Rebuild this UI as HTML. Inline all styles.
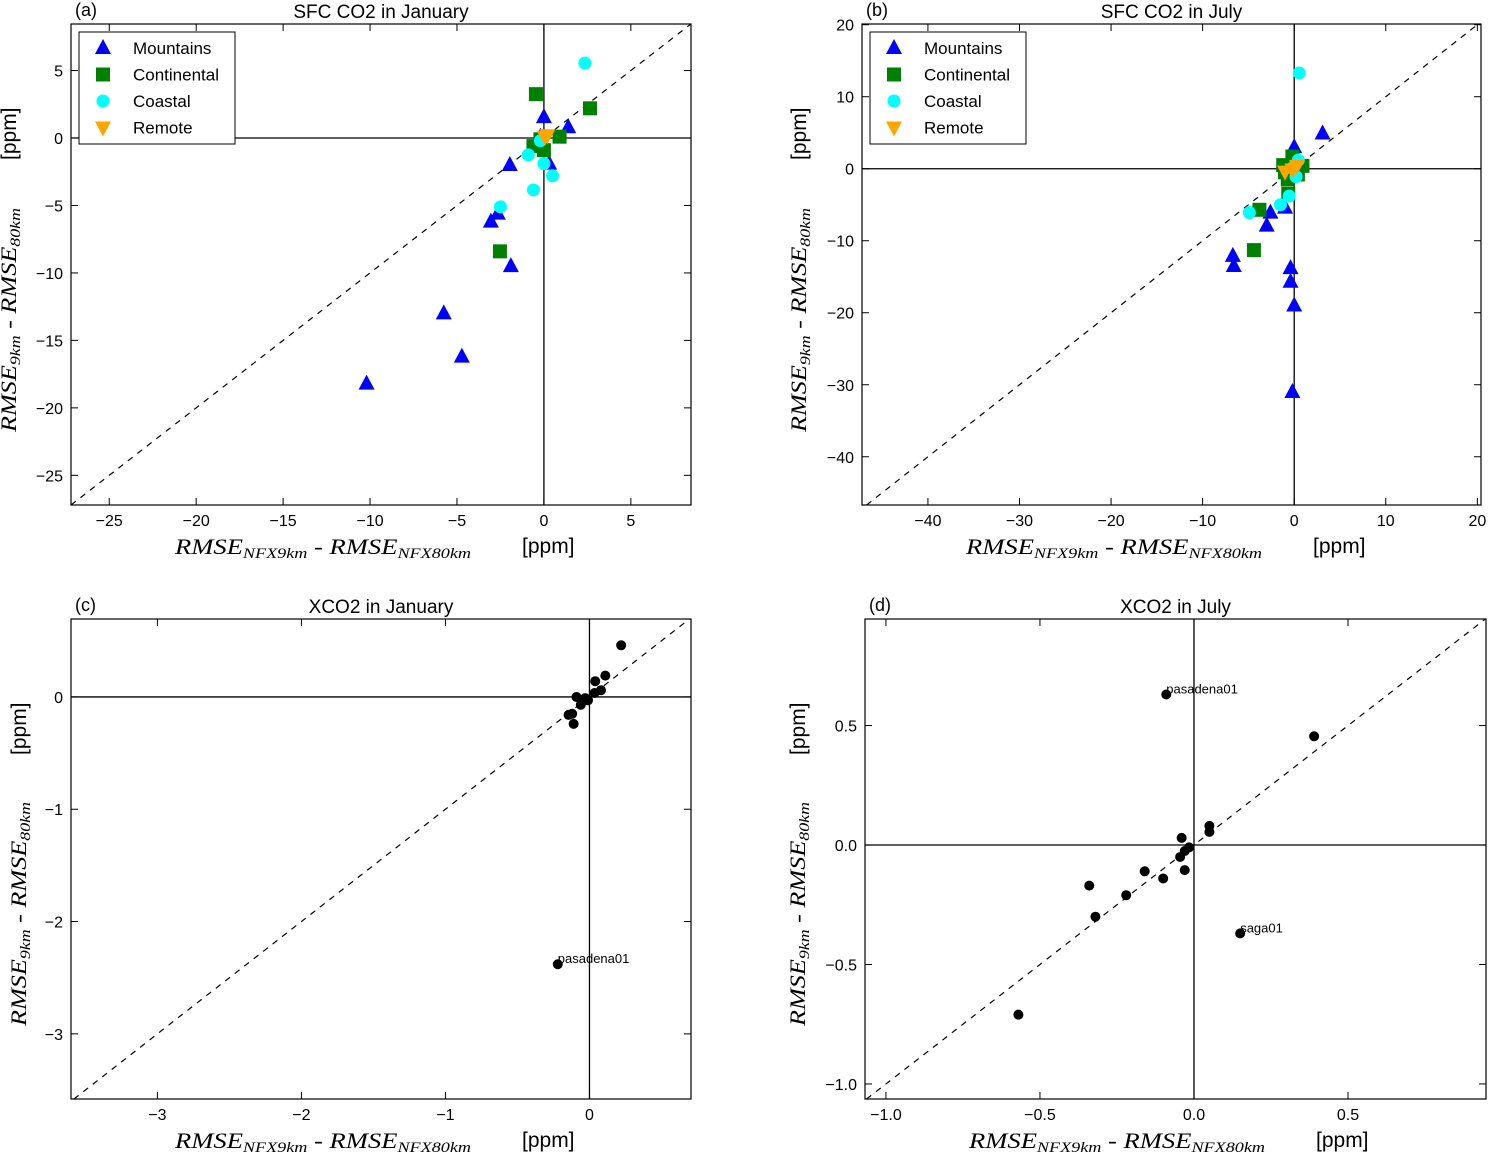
<!DOCTYPE html>
<html><head><meta charset="utf-8"><style>
body{margin:0;background:#fff}
svg{display:block;font-family:"Liberation Sans",sans-serif}
.tick{font-size:16px}
.ttl{font-size:19px}
.ser{font-family:"Liberation Serif",serif;font-style:italic;font-size:22px}
</style></head><body>
<svg id="c" width="1489" height="1152" viewBox="0 0 1489 1152"></svg>
<script>
// Panel (a) data
const aMountX=[-10.2,-5.76,-4.72,-3.05,-2.65,-1.96,-1.9,0,1.4,0.3,-0.2];
const aMountY=[-18.2,-13.0,-16.2,-6.2,-5.6,-2.0,-9.5,1.55,0.8,-1.9,0.1];
const aContX=[-0.46,2.65,-2.53,0.9,-0.6,0,-0.2];
const aContY=[3.25,2.2,-8.4,0.1,-0.6,-0.9,-0.1];
const aCoastX=[2.36,-0.9,0,0.5,-0.6,-2.5,-0.2];
const aCoastY=[5.55,-1.25,-1.9,-2.8,-3.85,-5.1,-0.2];
const aRemX=[0.05,0.2];
const aRemY=[0.1,0.2];
// Panel (b) data
const bMountX=[0,3.1,-2.6,-3,-1,-6.7,-6.6,-0.4,-0.4,0,-0.2];
const bMountY=[3.0,4.9,-6.1,-7.9,-5.4,-12.1,-13.5,-13.8,-15.7,-19.0,-31.0];
const bContX=[-3.8,-4.4,-0.65,-1.2,-0.2,0.4,0.9,-0.7,-1.0];
const bContY=[-5.7,-11.3,-3.5,0.5,1.7,-0.8,0.4,-1.5,-0.5];
const bCoastX=[0.55,-4.9,-1.5,-0.55,0.45,0.2,-0.2];
const bCoastY=[13.3,-6.1,-5.0,-3.8,1.2,-1.1,0.1];
const bRemX=[-1,-0.2,0.3];
const bRemY=[-0.4,-0.1,0.4];
// Panel (c) data
const cX=[0.22,0.11,0.04,0.08,0.035,-0.01,-0.03,-0.09,-0.06,-0.145,-0.12,-0.11,-0.22];
const cY=[0.46,0.19,0.14,0.06,0.035,-0.03,-0.01,0.0,-0.07,-0.16,-0.15,-0.24,-2.38];
const cLab=["","","","","","","","","","","","","pasadena01"];
// Panel (d) data
const dX=[-0.09,0.39,0.05,0.05,-0.04,-0.016,-0.03,-0.045,-0.03,-0.16,-0.1,-0.34,-0.22,-0.32,0.15,-0.57];
const dY=[0.63,0.455,0.08,0.055,0.03,-0.01,-0.025,-0.05,-0.105,-0.11,-0.14,-0.17,-0.21,-0.3,-0.37,-0.71];
const dLab=["pasadena01","","","","","","","","","","","","","","saga01",""];
const aTicks=[-25,-20,-15,-10,-5,0,5];
const bTicks=[-40,-30,-20,-10,0,10,20];
const cTicks=[-3,-2,-1,0];
const dTicks=[-1.0,-0.5,0.0,0.5];

const NS="http://www.w3.org/2000/svg";
const svg=document.getElementById('c');
function el(tag,attrs,parent,text){const e=document.createElementNS(NS,tag);for(const k in attrs)e.setAttribute(k,attrs[k]);if(text!==undefined)e.textContent=text;(parent||svg).appendChild(e);return e;}

function panel(p){
  const g=el('g',{});
  
  
  const sx=v=>p.x0+(v-p.xmin)/(p.xmax-p.xmin)*(p.x1-p.x0);
  const sy=v=>p.y1-(v-p.ymin)/(p.ymax-p.ymin)*(p.y1-p.y0);
  const lo=Math.max(p.xmin,p.ymin),hi=Math.min(p.xmax,p.ymax);
  const dl=el('line',{x1:sx(lo),y1:sy(lo),x2:sx(hi),y2:sy(hi),stroke:'#000','stroke-width':1.2,'stroke-dasharray':'6,6'},g);
  
  
  const h=el('line',{x1:p.x0,y1:sy(0),x2:p.x1,y2:sy(0),stroke:'#000','stroke-width':1.3},g);
  
  
  const v=el('line',{x1:sx(0),y1:p.y0,x2:sx(0),y2:p.y1,stroke:'#000','stroke-width':1.3},g);
  
  
  p.xt.forEach(t=>{const X=sx(t);
    el('line',{x1:X,y1:p.y1,x2:X,y2:p.y1-7,stroke:'#000'},g);
    el('line',{x1:X,y1:p.y0,x2:X,y2:p.y0+7,stroke:'#000'},g);
    const tx=el('text',{x:X,y:p.y1+21,'text-anchor':'middle',class:'tick'},g,p.fmt(t));
    
    });
  p.yt.forEach(t=>{const Y=sy(t);
    el('line',{x1:p.x0,y1:Y,x2:p.x0+7,y2:Y,stroke:'#000'},g);
    el('line',{x1:p.x1,y1:Y,x2:p.x1-7,y2:Y,stroke:'#000'},g);
    const ty=el('text',{x:p.x0-8,y:Y+6,'text-anchor':'end',class:'tick'},g,p.fmt(t));
    
    });
  p.series.forEach(s=>{
    s.xs.forEach((xv,i)=>{const X=sx(xv),Y=sy(s.ys[i]);let m;
      if(s.m==='tri')m=el('polygon',{points:`${X},${Y-9} ${X-8},${Y+6} ${X+8},${Y+6}`,fill:s.c},g);
      else if(s.m==='sq')m=el('rect',{x:X-7,y:Y-7,width:14,height:14,fill:s.c},g);
      else if(s.m==='dtri')m=el('polygon',{points:`${X},${Y+9} ${X-8},${Y-6} ${X+8},${Y-6}`,fill:s.c},g);
      else m=el('circle',{cx:X,cy:Y,r:s.r||6.5,fill:s.c},g);
      
      
      if(s.lab&&s.lab[i]){const lt=el('text',{x:X,y:Y-1,'font-size':13},g,s.lab[i]);
        
        }
    });
  });
  el('rect',{x:p.x0,y:p.y0,width:p.x1-p.x0,height:p.y1-p.y0,fill:'none',stroke:'#000','stroke-width':1.2},g);
  const t=el('text',{x:(p.x0+p.x1)/2,y:p.y0-6,'text-anchor':'middle',class:'ttl'},g,p.title);
  
  
  const pl=el('text',{x:p.x0+4,y:p.y0-8,'font-size':18},g,'('+p.id+')');
  
  
  const xl=el('text',{x:p.x0+104,y:p.y1+49,'text-anchor':'start',class:'ser',textLength:296,lengthAdjust:'spacingAndGlyphs'},g);
  xl.innerHTML='RMSE<tspan font-size="15" dy="4">NFX9km</tspan><tspan dy="-4"> - RMSE</tspan><tspan font-size="15" dy="4">NFX80km</tspan>';
  
  
  const xu=el('text',{x:p.x0+451,y:p.y1+48,'font-size':21},g,'[ppm]');
  
  
  const yl=el('text',{x:0,y:0,'text-anchor':'start',class:'ser',textLength:224,lengthAdjust:'spacingAndGlyphs',transform:`translate(${p.x0-p.yo},${p.y1-73}) rotate(-90)`},g);
  yl.innerHTML='RMSE<tspan font-size="15" dy="4">9km</tspan><tspan dy="-4"> - RMSE</tspan><tspan font-size="15" dy="4">80km</tspan>';
  
  
  const yu=el('text',{x:0,y:0,'text-anchor':'start','font-size':21,transform:`translate(${p.x0-p.yo},${p.y0+136}) rotate(-90)`},g,'[ppm]');
  
  
  return {g,sx,sy};
}
const intf=t=>t<0?'\u2212'+Math.abs(t):''+t;
const f1=t=>t<0?'\u2212'+Math.abs(t).toFixed(1):t.toFixed(1);
const f0=t=>t<0?'\u2212'+Math.abs(t):''+t;
function legend(g,x,y){
  const box=el('rect',{x:x,y:y,width:156,height:112,fill:'#fff',stroke:'#000'},g);
  
  
  const items=[['Mountains','tri','#0000ff'],['Continental','sq','#008000'],['Coastal','c','#00ffff'],['Remote','dtri','#ffa500']];
  items.forEach((it,i)=>{const X=x+24,Y=y+16+i*26.5;let m;
    if(it[1]==='tri')m=el('polygon',{points:`${X},${Y-9} ${X-8},${Y+6} ${X+8},${Y+6}`,fill:it[2]},g);
    else if(it[1]==='sq')m=el('rect',{x:X-7,y:Y-7,width:14,height:14,fill:it[2]},g);
    else if(it[1]==='dtri')m=el('polygon',{points:`${X},${Y+9} ${X-8},${Y-6} ${X+8},${Y-6}`,fill:it[2]},g);
    else m=el('circle',{cx:X,cy:Y,r:6.5,fill:it[2]},g);
    
    
    const t=el('text',{x:x+54,y:Y+6,'font-size':17},g,it[0]);
    
    });
}
function sfc(mx,my,cx,cy,kx,ky,rx,ry){return [
  {name:'mountains',m:'tri',c:'#0000ff',xs:mx,ys:my},
  {name:'continental',m:'sq',c:'#008000',xs:cx,ys:cy},
  {name:'coastal',m:'c',c:'#00ffff',xs:kx,ys:ky},
  {name:'remote',m:'dtri',c:'#ffa500',xs:rx,ys:ry}];}
const A=panel({id:'a',title:'SFC CO2 in January',x0:71,x1:691,y0:24,y1:505,xmin:-27.2,xmax:8.46,ymin:-27.2,ymax:8.45,xt:aTicks,yt:aTicks,fmt:intf,yo:55,
  series:sfc(aMountX,aMountY,aContX,aContY,aCoastX,aCoastY,aRemX,aRemY)});
legend(A.g,79,32);
const B=panel({id:'b',title:'SFC CO2 in July',x0:862,x1:1481,y0:24,y1:505,xmin:-47.2,xmax:20.4,ymin:-46.7,ymax:20.1,xt:bTicks,yt:bTicks,fmt:intf,yo:56,
  series:sfc(bMountX,bMountY,bContX,bContY,bCoastX,bCoastY,bRemX,bRemY)});
legend(B.g,870,32);
panel({id:'c',title:'XCO2 in January',x0:71,x1:691,y0:619,y1:1099,xmin:-3.6,xmax:0.705,ymin:-3.58,ymax:0.694,xt:cTicks,yt:cTicks,fmt:f0,yo:45,
  series:[{name:'xco2',m:'c',c:'#000',r:5,xs:cX,ys:cY,lab:cLab}]});
panel({id:'d',title:'XCO2 in July',x0:865,x1:1486,y0:619,y1:1099,xmin:-1.068,xmax:0.948,ymin:-1.063,ymax:0.946,xt:dTicks,yt:dTicks,fmt:f1,yo:60,
  series:[{name:'xco2',m:'c',c:'#000',r:5,xs:dX,ys:dY,lab:dLab}]});
</script>
</body></html>
